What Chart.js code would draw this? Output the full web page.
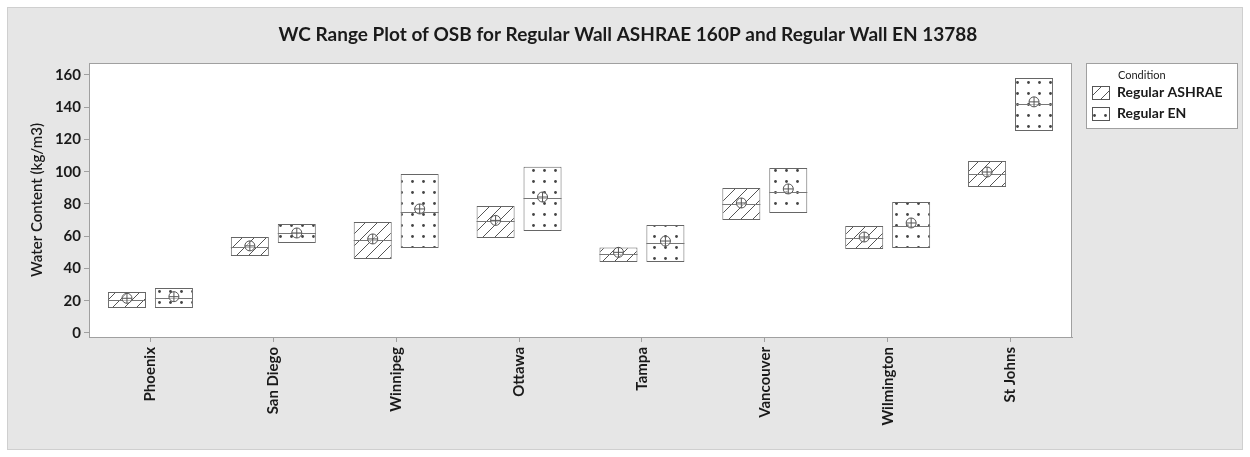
<!DOCTYPE html>
<html>
<head>
<meta charset="utf-8">
<script src="https://cdn.jsdelivr.net/npm/chart.js@4/dist/chart.umd.min.js"></script>
<style>
  html, body { margin: 0; padding: 0; background: #fff; }
  #wrap { width: 1250px; height: 457px; position: relative; }
</style>
</head>
<body>
<div id="wrap"><canvas id="chart" width="1250" height="457"></canvas></div>
<script>
const cities = ['Phoenix', 'San Diego', 'Winnipeg', 'Ottawa', 'Tampa', 'Vancouver', 'Wilmington', 'St Johns'];
const yTicks = [0, 20, 40, 60, 80, 100, 120, 140, 160];

// Regular ASHRAE
const ashraeLow    = [15.5, 47.8, 45.9, 58.9, 44, 70.1, 52.1, 90.5];
const ashraeHigh   = [25.4, 59.5, 68.8, 78.8, 53, 89.9, 66.4, 106.7];
const ashraeMedian = [20.5, 53.3, 57.7, 69.5, 49, 80, 58.9, 98.6];
const ashraeMean   = [21.5, 54, 58.3, 69.8, 50, 80.6, 59.5, 99.8];

// Regular EN
const enLow    = [15.5, 55.8, 52.7, 63.3, 44, 74.4, 52.7, 125.3];
const enHigh   = [27.9, 67.6, 98.6, 103, 67, 102.3, 81.2, 158.1];
const enMedian = [21.7, 62, 75, 83.7, 56, 87.4, 66.4, 142];
const enMean   = [22.5, 62, 76.9, 84.3, 57, 89.3, 68.2, 143.3];

const medians = [ashraeMedian, enMedian];
const means = [ashraeMean, enMean];

const FONT = 'Lato, "Open Sans", sans-serif';
const INK = '#555';

function makePattern(kind) {
  const c = document.createElement('canvas');
  const n = kind === 'hatch' ? 12 : 11;
  c.width = n; c.height = n;
  const g = c.getContext('2d');
  g.fillStyle = '#fff';
  g.fillRect(0, 0, n, n);
  if (kind === 'hatch') {
    g.strokeStyle = INK;
    g.lineWidth = 1;
    g.beginPath();
    g.moveTo(-1, n + 1); g.lineTo(n + 1, -1);
    g.moveTo(-1, 1); g.lineTo(1, -1);
    g.moveTo(n - 1, n + 1); g.lineTo(n + 1, n - 1);
    g.stroke();
  } else {
    g.fillStyle = '#444';
    g.beginPath();
    g.arc(5.5, 5.5, 1.4, 0, Math.PI * 2);
    g.fill();
  }
  return document.createElement('canvas').getContext('2d').createPattern(c, 'repeat');
}

const hatch = makePattern('hatch');
const dots = makePattern('dots');

const frame = {
  id: 'frame',
  beforeDraw(chart) {
    const { ctx, chartArea: a } = chart;
    ctx.save();
    ctx.fillStyle = '#e6e6e6';
    ctx.fillRect(7, 7, 1236, 443);
    ctx.strokeStyle = '#cfcfcf';
    ctx.strokeRect(7.5, 7.5, 1235, 442);
    ctx.fillStyle = '#fff';
    ctx.fillRect(a.left, a.top, a.right - a.left, a.bottom - a.top);
    ctx.strokeStyle = '#a0a0a0';
    ctx.lineWidth = 1;
    ctx.strokeRect(a.left + 0.5, a.top + 0.5, a.right - a.left - 1, a.bottom - a.top);
    ctx.fillStyle = '#1a1a1a';
    ctx.font = 'bold 19px ' + FONT;
    ctx.textAlign = 'center';
    ctx.textBaseline = 'middle';
    ctx.fillText('WC Range Plot of OSB for Regular Wall ASHRAE 160P and Regular Wall EN 13788', 628, 35);
    ctx.restore();
  },
  afterDatasetsDraw(chart) {
    const { ctx } = chart;
    const y = chart.scales.y;
    ctx.save();
    ctx.lineWidth = 1;
    for (let i = 0; i < 2; i++) {
      const meta = chart.getDatasetMeta(i);
      meta.data.forEach((bar, j) => {
        const ym = Math.round(y.getPixelForValue(medians[i][j])) + 0.5;
        ctx.strokeStyle = '#777';
        ctx.beginPath();
        ctx.moveTo(bar.x - bar.width / 2, ym);
        ctx.lineTo(bar.x + bar.width / 2, ym);
        ctx.stroke();
        const yc = y.getPixelForValue(means[i][j]);
        const r = 5;
        ctx.strokeStyle = INK;
        ctx.fillStyle = 'rgba(255,255,255,0.5)';
        ctx.beginPath();
        ctx.arc(bar.x, yc, r, 0, Math.PI * 2);
        ctx.fill();
        ctx.stroke();
        ctx.beginPath();
        ctx.moveTo(bar.x - r, yc); ctx.lineTo(bar.x + r, yc);
        ctx.moveTo(bar.x, yc - r); ctx.lineTo(bar.x, yc + r);
        ctx.stroke();
      });
    }
    ctx.restore();
  },
  afterDraw(chart) {
    const { ctx } = chart;
    ctx.save();
    ctx.fillStyle = '#fff';
    ctx.fillRect(1086, 63, 151, 65);
    ctx.strokeStyle = '#a0a0a0';
    ctx.strokeRect(1086.5, 63.5, 151, 65);
    ctx.fillStyle = '#1a1a1a';
    ctx.textBaseline = 'middle';
    ctx.textAlign = 'left';
    ctx.font = '11px ' + FONT;
    ctx.fillText('Condition', 1118, 75);
    const items = [['Regular ASHRAE', hatch], ['Regular EN', dots]];
    items.forEach(([label, pat], k) => {
      const yy = 92 + k * 21;
      ctx.fillStyle = pat;
      ctx.fillRect(1092, yy - 6, 17, 13);
      ctx.strokeStyle = INK;
      ctx.strokeRect(1092.5, yy - 5.5, 17, 13);
      ctx.fillStyle = '#1a1a1a';
      ctx.font = 'bold 14px ' + FONT;
      ctx.fillText(label, 1117, yy);
    });
    ctx.restore();
  }
};

new Chart(document.getElementById('chart'), {
  type: 'bar',
  data: {
    labels: cities,
    datasets: [
      {
        label: 'Regular ASHRAE',
        data: cities.map((_, i) => [ashraeLow[i], ashraeHigh[i]]),
        backgroundColor: hatch,
        borderColor: '#666',
        borderWidth: 1,
        borderSkipped: false
      },
      {
        label: 'Regular EN',
        data: cities.map((_, i) => [enLow[i], enHigh[i]]),
        backgroundColor: dots,
        borderColor: '#666',
        borderWidth: 1,
        borderSkipped: false
      }
    ]
  },
  options: {
    responsive: false,
    animation: false,
    events: [],
    categoryPercentage: 0.764,
    barPercentage: 0.81,
    layout: { padding: { top: 63, right: 178, left: 28, bottom: 0 } },
    plugins: {
      legend: { display: false },
      title: { display: false },
      tooltip: { enabled: false }
    },
    scales: {
      x: {
        afterFit(s) { s.height = 120; },
        grid: { offset: false, drawOnChartArea: false, drawTicks: true, tickLength: 5, color: '#a0a0a0' },
        border: { color: '#a0a0a0' },
        ticks: {
          minRotation: 90, maxRotation: 90, padding: 5,
          color: '#1a1a1a',
          font: { family: FONT, size: 15, weight: 'bold' }
        }
      },
      y: {
        min: -2.5,
        max: 167.4,
        afterFit(s) { s.width = 61; },
        afterBuildTicks(s) { s.ticks = yTicks.map(v => ({ value: v })); },
        grid: { drawOnChartArea: false, drawTicks: true, tickLength: 5, color: '#a0a0a0' },
        border: { color: '#a0a0a0' },
        ticks: {
          padding: 3,
          color: '#1a1a1a',
          font: { family: FONT, size: 15, weight: 'bold' }
        },
        title: {
          display: true,
          text: 'Water Content (kg/m3)',
          color: '#1a1a1a',
          padding: { top: 0, bottom: 0 },
          font: { family: FONT, size: 15, weight: '600' }
        }
      }
    }
  },
  plugins: [frame]
});
</script>
</body>
</html>
